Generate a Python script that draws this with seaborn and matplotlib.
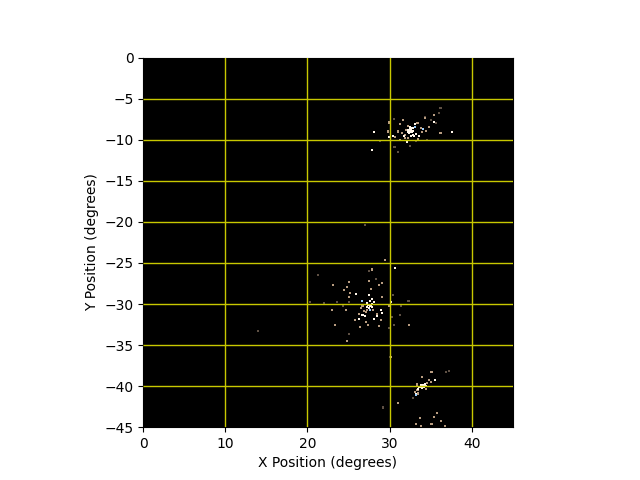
import matplotlib
matplotlib.use("Agg")
import matplotlib.pyplot as plt
import pandas as pd
import seaborn as sns

# star positions, in degrees, by brightness
bright_x = [32.6, 32.4, 32.8, 32.5, 32.9, 32.3, 32.7, 33.2, 37.6, 32.1, 28.1, 27.9, 29.9, 31.8, 33.0, 33.6, 33.1, 30.4, 35.4,
            32.55, 32.75, 32.45, 32.65, 32.85, 32.2,
            25.9, 27.5, 28.1, 27.7, 27.3, 27.5, 29.0, 29.1, 28.5, 28.1, 26.7, 27.0, 26.3, 30.2, 30.7, 27.8, 27.6,
            27.4, 27.6, 27.2, 27.9, 27.8,
            33.9, 34.1, 34.3, 33.7, 34.0, 33.5, 35.5, 33.2, 33.8, 34.2, 34.4, 33.6]
bright_y = [-8.8, -9.2, -9.4, -8.4, -8.9, -9.0, -8.6, -9.3, -9.1, -10.3, -9.1, -11.2, -9.7, -9.5, -9.6, -9.6, -8.1, -9.6, -7.8,
            -9.1, -9.1, -8.7, -9.6, -8.6, -8.8,
            -28.8, -28.9, -29.7, -30.3, -29.9, -30.5, -30.7, -31.1, -31.5, -31.8, -31.3, -31.5, -31.8, -29.8, -25.6, -30.0, -29.6,
            -30.1, -30.2, -30.4, -30.4, -29.4,
            -40.0, -39.9, -39.8, -40.1, -40.2, -40.3, -39.2, -41.0, -39.9, -40.1, -39.95, -40.15]
tan_x = [31.6, 31.3, 34.8, 36.2, 35.4, 29.9, 29.8, 30.7, 31.0, 31.3, 31.5, 31.9, 32.0, 32.2, 33.4, 33.8, 34.3, 33.9, 33.5, 34.4, 31.9, 32.2,
         25.1, 24.8, 24.5, 23.1, 25.2, 25.1, 23.0, 24.7, 25.8, 27.1, 27.4, 26.4, 28.7, 29.0, 23.4, 24.8, 27.8, 29.4, 28.7, 29.1, 27.5, 27.7, 29.1, 29.9, 32.4,
         26.5, 26.7, 27.3, 26.9, 28.0, 28.5, 27.1, 26.3,
         35.0, 34.8, 35.1, 34.0, 33.4, 33.1, 33.5, 34.4, 34.6, 33.3, 31.0, 30.2, 33.7, 35.1, 36.3, 36.8, 33.8, 33.2, 35.8, 35.4]
tan_y = [-7.6, -8.1, -8.5, -9.2, -7.0, -7.9, -9.0, -9.7, -9.0, -10.0, -9.2, -9.8, -8.8, -8.3, -8.0, -8.6, -7.4, -9.1, -9.9, -8.9, -9.4, -9.8,
         -27.3, -27.9, -28.3, -27.7, -28.7, -29.1, -30.7, -30.7, -32.0, -32.2, -32.6, -32.8, -32.7, -32.0, -32.6, -34.5, -25.8, -24.6, -27.7, -27.5, -27.2, -28.2, -29.2, -30.3, -32.6,
         -30.5, -30.3, -30.7, -30.9, -30.7, -31.2, -31.0, -31.2,
         -39.5, -39.2, -38.3, -38.9, -40.5, -40.7, -40.9, -40.4, -39.6, -39.8, -42.0, -36.5, -43.9, -44.6, -44.3, -44.8, -44.8, -44.6, -43.3, -43.8]
dim_x = [30.6, 31.0, 32.5, 33.2, 34.6, 35.0, 28.8, 30.5, 36.2, 36.0, 35.6, 34.3, 30.4, 32.3, 31.4, 30.3, 29.9, 30.5, 25.1, 22.0, 24.3, 20.3, 21.3, 23.6, 25.1,
         14.0, 27.0, 29.4, 29.2, 37.2, 31.3, 32.9, 36.9, 28.3, 27.5, 30.0]
dim_y = [-10.9, -11.5, -10.8, -10.1, -10.0, -7.6, -10.2, -7.5, -6.1, -6.8, -8.0, -7.2, -28.9, -29.6, -30.3, -31.6, -32.9, -32.6, -33.6, -29.9, -30.3, -29.7, -26.5, -29.7, -29.8,
         -33.3, -20.4, -24.7, -42.6, -38.2, -31.3, -41.5, -38.3, -27.0, -26.0, -36.5]
blue_x = [34.1, 33.1, 26.6, 27.6, 33.2]
blue_y = [-8.7, -8.4, -29.6, -30.7, -41.1]

df = pd.concat([
    pd.DataFrame({"x": dim_x, "y": dim_y, "kind": "dim"}),
    pd.DataFrame({"x": tan_x, "y": tan_y, "kind": "tan"}),
    pd.DataFrame({"x": bright_x, "y": bright_y, "kind": "bright"}),
    pd.DataFrame({"x": blue_x, "y": blue_y, "kind": "blue"}),
])

fig, ax = plt.subplots(figsize=(6.4, 4.8), dpi=100)
ax.set_facecolor("black")
sns.scatterplot(
    data=df, x="x", y="y", hue="kind", marker="s", s=2.2, linewidth=0,
    palette={"dim": "#5e5044", "tan": "#b89c80", "bright": "#fff6ea", "blue": "#9ccfff"},
    legend=False, ax=ax, zorder=2
)
ax.set_xlim(0, 45)
ax.set_ylim(-45, 0)
ax.set_aspect("equal")
ax.set_xticks([0, 10, 20, 30, 40])
ax.set_yticks([0, -5, -10, -15, -20, -25, -30, -35, -40, -45])
ax.grid(True, color="#c8c800", linewidth=1)
ax.set_axisbelow(False)

# no yellow along the frame
ax.get_xgridlines()[0].set_visible(False)
ax.get_ygridlines()[0].set_visible(False)
ax.get_ygridlines()[-1].set_visible(False)

ax.set_xlabel("X Position (degrees)")
ax.set_ylabel("Y Position (degrees)")
fig.savefig("out.png", dpi=100)
